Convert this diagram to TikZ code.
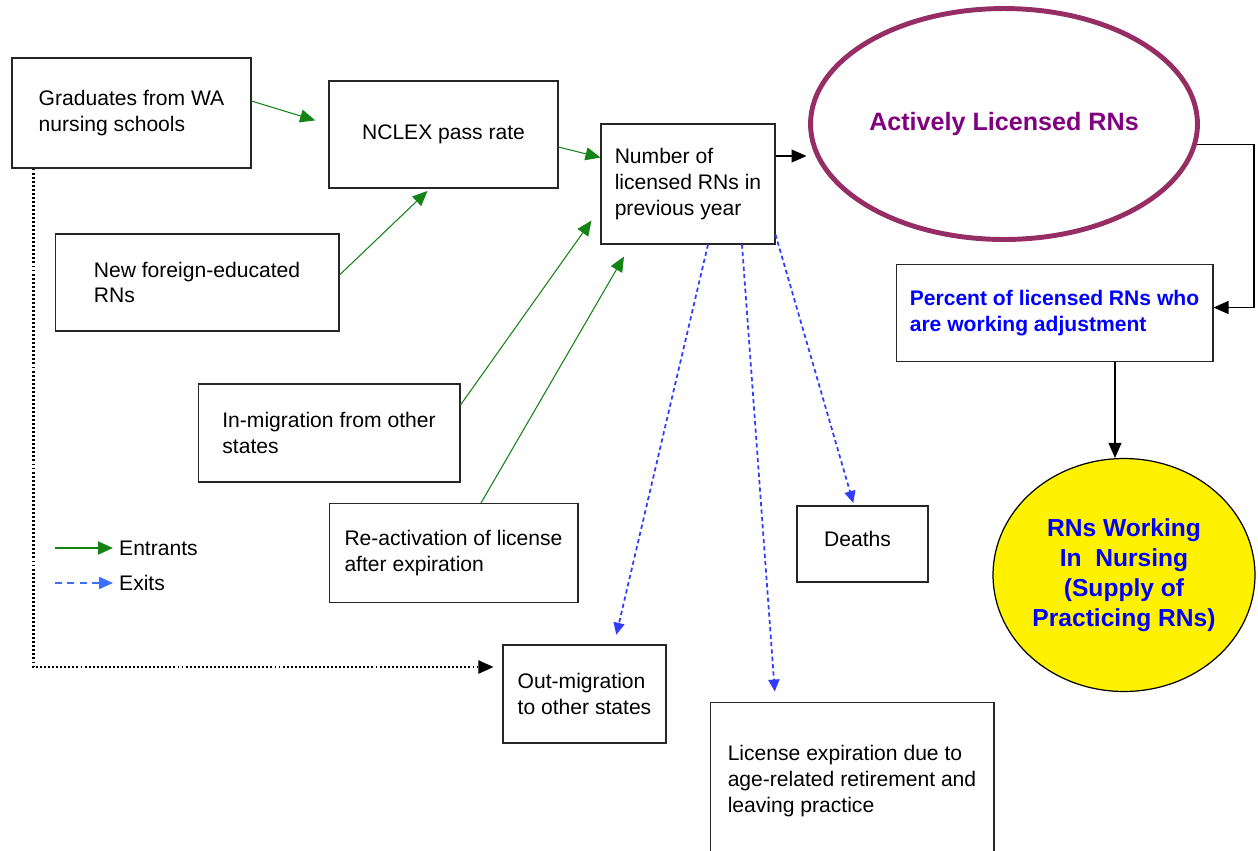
\documentclass[tikz,border=0pt]{standalone}
\usepackage{xcolor}
\usepackage{fontspec}
\setmainfont{Liberation Sans}
\usepackage{tikz}
\usetikzlibrary{arrows.meta}
\usetikzlibrary{shapes.geometric}
\definecolor{entrgreen}{RGB}{20,130,20}
\definecolor{exitblue}{RGB}{50,60,255}
\definecolor{legblue}{RGB}{60,110,255}
\definecolor{ovalpurple}{RGB}{150,45,100}
\definecolor{txtpurple}{RGB}{128,0,128}

\begin{document}
\begin{tikzpicture}[x=0.02cm,y=-0.02cm,
  box/.style={draw=black!85,line width=0.6pt,align=left,inner sep=0pt,font=\fontsize{12}{14.7}\selectfont},
  tip/.style={-{Triangle[length=0.3cm,width=0.26cm]}},
  entrant/.style={tip,color=entrgreen,line width=0.6pt},
  outflow/.style={tip,color=black,line width=0.6pt},
  exitline/.style={-{Triangle[length=0.24cm,width=0.22cm]},color=exitblue,line width=1pt,dash pattern=on 2.4pt off 1.8pt},
  dotline/.style={tip,color=black,line width=1.2pt,dash pattern=on 1.1pt off 1.2pt}]
\useasboundingbox (0,0) rectangle (1258,850);
\node[box,minimum width=4.78cm,minimum height=2.20cm] (grad) at (131.5,113) {Graduates from WA\\nursing schools};
\node[box,minimum width=4.58cm,minimum height=2.14cm] (nclex) at (443.5,134.5) {NCLEX pass rate};
\node[box,minimum width=3.48cm,minimum height=2.40cm] (num) at (688,184) {Number of\\licensed RNs in\\previous year};
\node[box,minimum width=5.68cm,minimum height=1.94cm] (foreign) at (197,282.5) {New foreign-educated\\RNs};
\node[box,minimum width=5.24cm,minimum height=1.96cm] (inmig) at (329,433) {In-migration from other\\states};
\node[box,minimum width=4.98cm,minimum height=1.98cm] (react) at (453.5,553) {Re-activation of license\\after expiration};
\node[box,minimum width=2.62cm,minimum height=1.52cm,text depth=0.2cm] (deaths) at (862.5,544) {Deaths\hspace*{0.2cm}};
\node[box,minimum width=3.26cm,minimum height=1.96cm] (outmig) at (584.5,694) {Out-migration\\to other states};
\node[box,minimum width=5.68cm,minimum height=3.16cm] (licexp) at (852,781) {License expiration due to\\age-related retirement and\\leaving practice};
\node[box,minimum width=6.34cm,minimum height=1.94cm,text=blue,font=\fontsize{12}{14.7}\selectfont\bfseries] (percent) at (1054.5,313) {Percent of licensed RNs who\\are working adjustment};
\node[ellipse,draw=ovalpurple,line width=2.8pt,minimum width=7.74cm,minimum height=4.62cm,inner sep=0pt,text=txtpurple,font=\fontsize{14.3}{17}\selectfont\bfseries] (active) at (1004,124) {Actively Licensed RNs};
\node[ellipse,draw=black,fill=yellow,line width=0.7pt,minimum width=5.24cm,minimum height=4.66cm,inner sep=0pt,align=center,text=blue,font=\fontsize{14}{17}\selectfont\bfseries] (working) at (1124,575) {RNs Working\\In~~Nursing\\(Supply of\\Practicing RNs)};
\draw[entrant,shorten >=0.28cm] ([yshift=0.24cm]grad.east) -- ([yshift=0.2cm]nclex.west);
\draw[entrant,shorten >=2pt] ([yshift=0.15cm]foreign.east) -- ([xshift=-0.27cm]nclex.south);
\draw[entrant] ([yshift=-0.25cm]nclex.east) -- ([yshift=0.53cm]num.west);
\draw[entrant] ([yshift=0.56cm]inmig.east) -- ([xshift=-0.18cm,yshift=0.48cm]num.south west);
\draw[entrant] ([xshift=0.55cm]react.north) -- ([xshift=-1.28cm,yshift=-0.24cm]num.south);
\draw[outflow] ([yshift=0.56cm]num.east) -- ++(31,0);
\draw[outflow] (active.-6) -- ++(57,0) |- ([yshift=0.11cm]percent.east);
\coordinate (pdown) at ([xshift=1.21cm]percent.south);
\draw[outflow] (pdown) -- (pdown |- working.north);
\draw[exitline,shorten >=0.2cm] ([xshift=0.4cm]num.south) -- ([xshift=0.59cm]outmig.north);
\draw[exitline,shorten >=0.2cm] ([xshift=1.08cm]num.south) -- ([xshift=-1.53cm]licexp.north);
\draw[exitline,shorten >=1.5pt] ([yshift=0.2cm]num.south east) -- ([xshift=-0.17cm]deaths.north);
\draw[dotline,shorten >=0.18cm] ([xshift=0.44cm]grad.south west) |- ([yshift=0.54cm]outmig.west);
\node[anchor=west,font=\fontsize{12}{14.7}\selectfont] (lgin) at (113,548) {Entrants};
\node[anchor=west,font=\fontsize{12}{14.7}\selectfont] (lgout) at (113,583) {Exits};
\coordinate (lgina) at (55,548);
\coordinate (lgouta) at (55,583);
\draw[entrant,line width=1.1pt] (lgina) -- (lgin.west);
\draw[-{Triangle[length=0.28cm,width=0.24cm]},color=legblue,line width=1.1pt,dash pattern=on 4pt off 3pt] (lgouta) -- (lgout.west);
\end{tikzpicture}
\end{document}
